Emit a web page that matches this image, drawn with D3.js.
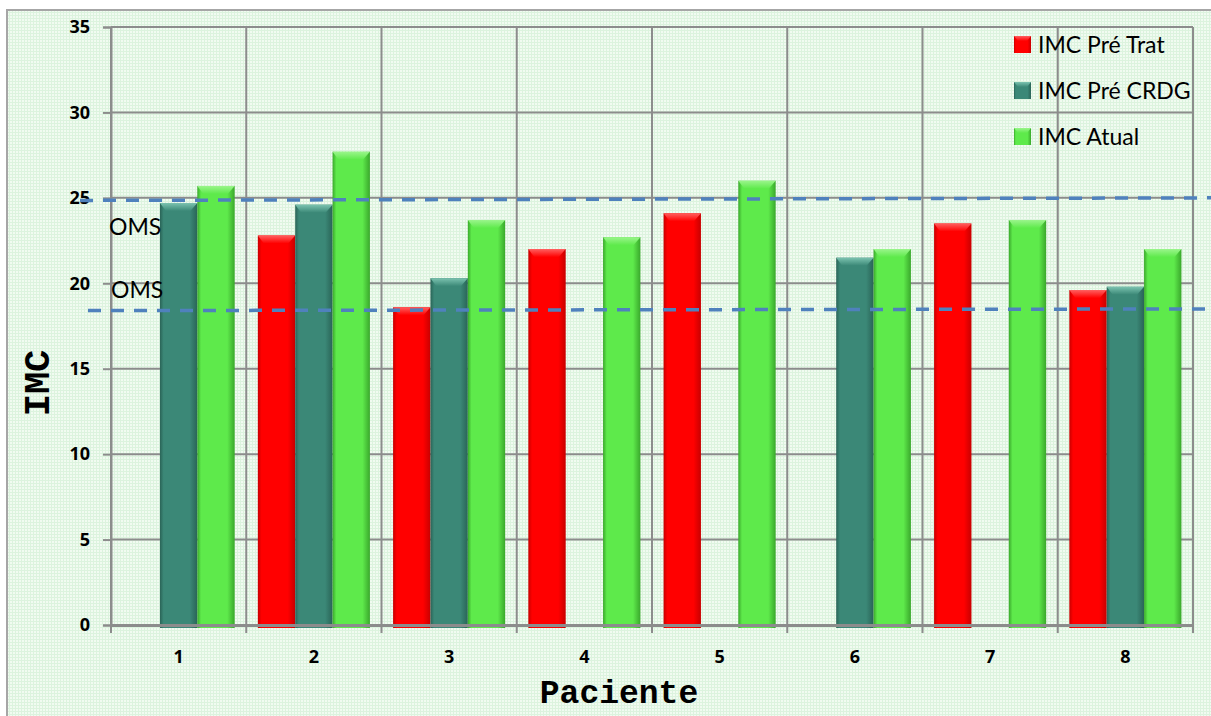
<!DOCTYPE html>
<html>
<head>
<meta charset="utf-8">
<script src="https://cdn.jsdelivr.net/npm/d3@7"></script>
<style>
  html, body { margin: 0; padding: 0; background: #ffffff; }
  svg { display: block; }
</style>
</head>
<body>
<svg id="chart" width="1211" height="716"></svg>
<script>
// ---------------- data ----------------
const categories = ["1", "2", "3", "4", "5", "6", "7", "8"];
const seriesNames = ["IMC Pré Trat", "IMC Pré CRDG", "IMC Atual"];
const preTrat = [null, 22.8, 18.6, 22.0, 24.1, null, 23.5, 19.6];
const preCRDG = [24.7, 24.6, 20.3, null, null, 21.5, null, 19.8];
const atual   = [25.7, 27.7, 23.7, 22.7, 26.0, 22.0, 23.7, 22.0];
const yTicks = [0, 5, 10, 15, 20, 25, 30, 35];
const omsUpper = [24.85, 25.0];   // left end, right end
const omsLower = [18.4, 18.5];
const omsLabel = "OMS";
const xTitle = "Paciente";
const yTitle = "IMC";

// ---------------- layout ----------------
const W = 1211, H = 716;
const plot = { left: 111, right: 1193, top: 27, bottom: 625 };
const svg = d3.select("#chart");
const defs = svg.append("defs");

// textured mint background
const pat = defs.append("pattern").attr("id", "bgpat")
  .attr("width", 3).attr("height", 3).attr("patternUnits", "userSpaceOnUse");
pat.append("rect").attr("width", 3).attr("height", 3).attr("fill", "#f1fbf1");
pat.append("rect").attr("width", 3).attr("height", 1).attr("fill", "#dcf3de");
pat.append("rect").attr("width", 1).attr("height", 3).attr("fill", "#dcf3de");

svg.append("rect").attr("x", 7).attr("y", 10).attr("width", W - 7).attr("height", H - 10)
  .attr("fill", "url(#bgpat)");
svg.append("path").attr("d", `M7,${H} L7,10 L${W},10`)
  .attr("fill", "none").attr("stroke", "#a6a6a6").attr("stroke-width", 2);

// scales
const x0 = d3.scaleBand().domain(categories).range([plot.left, plot.right]).padding(0);
const x1 = d3.scaleBand().domain(seriesNames).range([0, x0.bandwidth()])
  .paddingInner(0).paddingOuter(0.31);
const y = d3.scaleLinear().domain([0, 35]).range([plot.bottom, plot.top]);

const gridColor = "#8c8c8c";

// horizontal gridlines
svg.append("g").selectAll("line").data(yTicks.filter(d => d > 0)).join("line")
  .attr("x1", plot.left).attr("x2", plot.right)
  .attr("y1", d => y(d)).attr("y2", d => y(d))
  .attr("stroke", gridColor).attr("stroke-width", 2);

// vertical gridlines at category boundaries
const bounds = categories.map(c => x0(c)).concat([plot.right]);
svg.append("g").selectAll("line").data(bounds).join("line")
  .attr("x1", d => d).attr("x2", d => d)
  .attr("y1", plot.top).attr("y2", plot.bottom + 8)
  .attr("stroke", gridColor).attr("stroke-width", 2);

// series colours
const colors = {
  "IMC Pré Trat": { base: "#ff0000", dark: "#c80000", light: "#ff6060" },
  "IMC Pré CRDG": { base: "#3b8877", dark: "#2a6457", light: "#7cc3b0" },
  "IMC Atual":    { base: "#5eea4b", dark: "#3aa82c", light: "#9af58b" }
};
seriesNames.forEach((s, i) => {
  const c = colors[s];
  const g = defs.append("linearGradient").attr("id", "side" + i)
    .attr("x1", 0).attr("x2", 1).attr("y1", 0).attr("y2", 0);
  g.append("stop").attr("offset", "0%").attr("stop-color", c.dark);
  g.append("stop").attr("offset", "10%").attr("stop-color", c.base);
  g.append("stop").attr("offset", "80%").attr("stop-color", c.base);
  g.append("stop").attr("offset", "100%").attr("stop-color", c.dark);
  const t = defs.append("linearGradient").attr("id", "top" + i)
    .attr("x1", 0).attr("x2", 0).attr("y1", 0).attr("y2", 1);
  t.append("stop").attr("offset", "0%").attr("stop-color", c.light);
  t.append("stop").attr("offset", "100%").attr("stop-color", c.base);
});

const seriesData = [preTrat, preCRDG, atual];
const barData = [];
categories.forEach((cat, ci) => {
  seriesNames.forEach((s, si) => {
    const v = seriesData[si][ci];
    if (v != null) barData.push({ cat, s, si, v });
  });
});

const bars = svg.append("g").selectAll("g").data(barData).join("g");
bars.append("rect")
  .attr("x", d => x0(d.cat) + x1(d.s))
  .attr("y", d => y(d.v))
  .attr("width", x1.bandwidth())
  .attr("height", d => y(0) - y(d.v) + 3)
  .attr("fill", d => `url(#side${d.si})`);
bars.append("path")
  .attr("d", d => {
    const xa = x0(d.cat) + x1(d.s), w = x1.bandwidth(), ya = y(d.v);
    return `M${xa},${ya} L${xa + w},${ya} L${xa + w - 7},${ya + 8} L${xa + 6},${ya + 8} Z`;
  })
  .attr("fill", d => `url(#top${d.si})`);

// axes
const yAxis = d3.axisLeft(y).tickValues(yTicks).tickSize(8).tickPadding(12);
const yg = svg.append("g").attr("transform", `translate(${plot.left},0)`).call(yAxis);
yg.select(".domain").attr("stroke", gridColor).attr("stroke-width", 2);
yg.selectAll(".tick line").attr("stroke", gridColor).attr("stroke-width", 2);
yg.selectAll(".tick text").attr("font-family", "Open Sans").attr("font-weight", "bold")
  .attr("font-size", 18).attr("fill", "#000").attr("dx", "-0.05em");

const xAxis = d3.axisBottom(x0).tickSize(0).tickPadding(25);
const xg = svg.append("g").attr("transform", `translate(0,${plot.bottom})`).call(xAxis);
xg.select(".domain").attr("stroke", gridColor).attr("stroke-width", 3);
xg.selectAll(".tick text").attr("font-family", "Open Sans").attr("font-weight", "bold")
  .attr("font-size", 18).attr("fill", "#000");

// OMS dashed reference lines
const omsG = svg.append("g");
[[omsUpper, 80], [omsLower, 88]].forEach(([vals, xs]) => {
  omsG.append("line")
    .attr("x1", xs).attr("x2", W)
    .attr("y1", y(vals[0])).attr("y2", y(vals[1]))
    .attr("stroke", "#4f81bd").attr("stroke-width", 3.5)
    .attr("stroke-dasharray", "13,10");
});
omsG.append("text").attr("x", 109).attr("y", 235).text(omsLabel)
  .attr("font-family", "Lato").attr("font-size", 23).attr("fill", "#000");
omsG.append("text").attr("x", 111).attr("y", 298).text(omsLabel)
  .attr("font-family", "Lato").attr("font-size", 23).attr("fill", "#000");

// legend
const leg = svg.append("g").attr("transform", "translate(1014,36)");
seriesNames.forEach((s, i) => {
  const gy = i * 46;
  leg.append("rect").attr("x", 0).attr("y", gy).attr("width", 17).attr("height", 17)
    .attr("fill", `url(#side${i})`);
  leg.append("path").attr("d", `M0,${gy} L17,${gy} L13,${gy + 5} L4,${gy + 5} Z`)
    .attr("fill", `url(#top${i})`);
  leg.append("text").attr("x", 24).attr("y", gy + 17).text(s)
    .attr("font-family", "Lato").attr("font-size", 23).attr("fill", "#000");
});

// axis titles
svg.append("text").attr("x", 619).attr("y", 703).attr("text-anchor", "middle")
  .attr("font-family", "Liberation Mono").attr("font-weight", "bold")
  .attr("font-size", 33).attr("fill", "#000").text(xTitle);
svg.append("text").attr("transform", "translate(49,383) rotate(-90)")
  .attr("text-anchor", "middle")
  .attr("font-family", "Liberation Mono").attr("font-weight", "bold")
  .attr("font-size", 37).attr("fill", "#000").text(yTitle);
</script>
</body>
</html>
